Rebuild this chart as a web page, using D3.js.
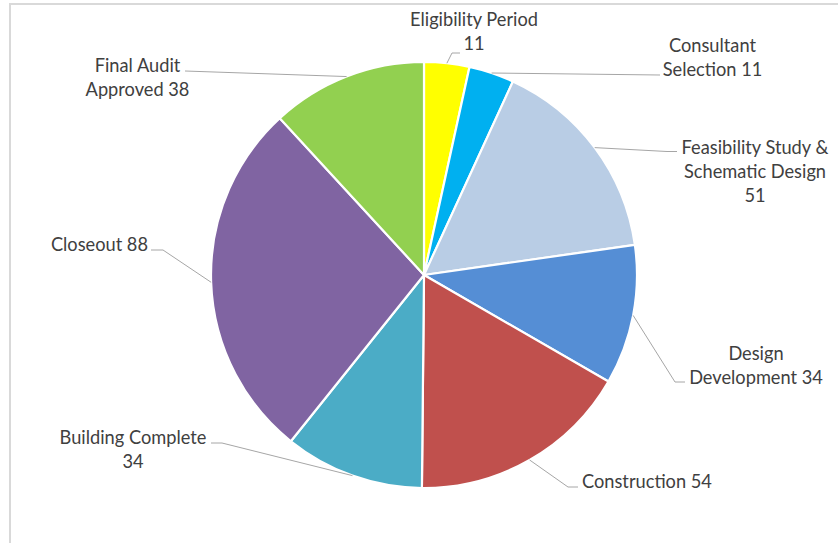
<!DOCTYPE html>
<html>
<head>
<meta charset="utf-8">
<script src="https://cdn.jsdelivr.net/npm/d3@7"></script>
<style>
  html, body { margin: 0; padding: 0; background: #fff; }
  svg { display: block; }
</style>
</head>
<body>
<div id="chart"></div>
<script>
// ---- data ----
const categories = [
  "Eligibility Period",
  "Consultant Selection",
  "Feasibility Study & Schematic Design",
  "Design Development",
  "Construction",
  "Building Complete",
  "Closeout",
  "Final Audit Approved"
];
const values = [11, 11, 51, 34, 54, 34, 88, 38];
const colors = ["#FFFF00", "#00B0F0", "#B9CDE5", "#558ED5", "#C0504D", "#4BACC6", "#8064A2", "#92D050"];

// ---- layout (label placement, not data) ----
// words per line, text anchor x, first baseline y, elbow point, line end point, anchor
const labelLayout = [
  { words: [2, 1],    x: 474,   y: 26,  elbow: [452, 53],  end: [460, 53],  anchor: "middle" },
  { words: [1, 2],    x: 712.5, y: 52,  elbow: null,       end: [660, 75],  anchor: "middle" },
  { words: [3, 2, 1], x: 755,   y: 154, elbow: [667, 151.5], end: [677, 151.5], anchor: "middle" },
  { words: [1, 2],    x: 756,   y: 360, elbow: [675, 382], end: [685, 382], anchor: "middle" },
  { words: [2],       x: 582,   y: 488, elbow: [568, 487], end: [578, 487], anchor: "start" },
  { words: [2, 1],    x: 133,   y: 444, elbow: [222, 443], end: [211, 443], anchor: "middle" },
  { words: [2],       x: 148,   y: 251, elbow: [163, 250], end: [151, 250], anchor: "end" },
  { words: [2, 2],    x: 137.5, y: 72,  elbow: null,       end: [185, 71],  anchor: "middle" }
];

const W = 838, H = 543;
const cx = 424, cy = 275, R = 213;
const lineH = 24;

const svg = d3.select("#chart").append("svg")
  .attr("width", W).attr("height", H);

// chart area border (partially visible)
svg.append("rect")
  .attr("x", 10).attr("y", 4)
  .attr("width", W + 20).attr("height", H + 20)
  .attr("fill", "none")
  .attr("stroke", "#D9D9D9")
  .attr("stroke-width", 2);

const pie = d3.pie().sort(null).value(d => d).startAngle(0).endAngle(2 * Math.PI);
const arcs = pie(values);
const arc = d3.arc().innerRadius(0).outerRadius(R);

const g = svg.append("g").attr("transform", `translate(${cx},${cy})`);
g.selectAll("path.slice")
  .data(arcs)
  .join("path")
  .attr("class", "slice")
  .attr("d", arc)
  .attr("fill", (d, i) => colors[i])
  .attr("stroke", "#fff")
  .attr("stroke-width", 2.2)
  .attr("stroke-linejoin", "round");

// leader lines
const edgePoint = d => {
  const a = (d.startAngle + d.endAngle) / 2;
  return [cx + R * Math.sin(a), cy - R * Math.cos(a)];
};
svg.append("g").selectAll("polyline")
  .data(arcs)
  .join("polyline")
  .attr("points", (d, i) => {
    const L = labelLayout[i];
    const pts = [edgePoint(d)];
    if (L.elbow) pts.push(L.elbow);
    pts.push(L.end);
    return pts.map(p => p.join(",")).join(" ");
  })
  .attr("fill", "none")
  .attr("stroke", "#A6A6A6")
  .attr("stroke-width", 1);

// labels
const fontFamily = "Lato, 'Open Sans', 'Noto Sans', sans-serif";
let fontSize = 18;
// fit font so that "Eligibility Period" is ~128px wide, like the reference
const probe = svg.append("text").attr("font-family", fontFamily).attr("font-size", 100).text("Eligibility Period");
const w100 = probe.node().getComputedTextLength();
probe.remove();
if (w100 > 0) fontSize = 100 * 128 / w100;

const labels = svg.append("g")
  .attr("font-family", fontFamily)
  .attr("font-size", fontSize)
  .attr("fill", "#404040");

arcs.forEach((d, i) => {
  const L = labelLayout[i];
  const words = (categories[i] + " " + values[i]).split(" ");
  const lines = [];
  let k = 0;
  L.words.forEach(n => { lines.push(words.slice(k, k + n).join(" ")); k += n; });
  const t = labels.append("text").attr("text-anchor", L.anchor);
  lines.forEach((ln, j) => {
    t.append("tspan").attr("x", L.x).attr("y", L.y + j * lineH).text(ln);
  });
});
</script>
</body>
</html>
